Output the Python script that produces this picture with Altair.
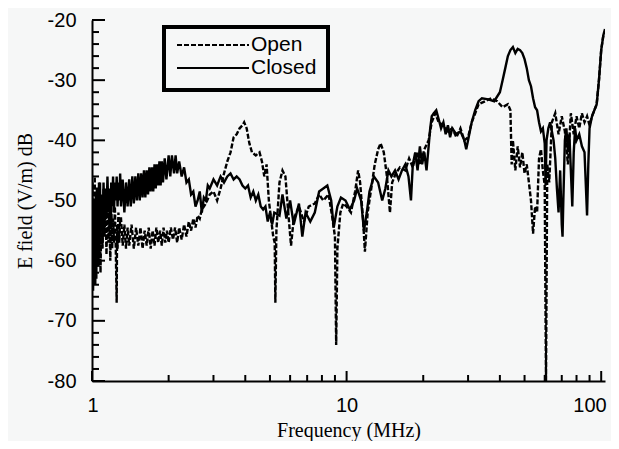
import altair as alt
import pandas as pd

# ---------------- data ----------------
closed_freq = [1.0, 1.005, 1.01, 1.015, 1.02, 1.025, 1.03, 1.035, 1.04, 1.045, 1.05, 1.055, 1.06, 1.065, 1.07,
               1.075, 1.08, 1.09, 1.1, 1.11, 1.12, 1.13, 1.14, 1.15, 1.16, 1.17, 1.18, 1.19, 1.2, 1.21,
               1.22, 1.23, 1.24, 1.25, 1.26, 1.27, 1.28, 1.29,
               1.3, 1.32, 1.34, 1.36, 1.38, 1.4, 1.42, 1.44, 1.46, 1.48, 1.5, 1.52, 1.54, 1.56, 1.58,
               1.6, 1.62, 1.64, 1.66, 1.68, 1.7, 1.72, 1.74, 1.76, 1.78, 1.8, 1.82, 1.84, 1.86, 1.88,
               1.9, 1.93, 1.96, 2.0, 2.03, 2.06, 2.1, 2.13, 2.16, 2.2, 2.25, 2.3, 2.35, 2.4, 2.45,
               2.5, 2.55, 2.6, 2.65, 2.7, 2.75, 2.8, 2.85, 2.9, 3.0, 3.1, 3.2, 3.3, 3.4, 3.5,
               3.6, 3.7, 3.8, 3.9, 4.0, 4.1, 4.2, 4.3, 4.4, 4.5, 4.6, 4.7, 4.8, 4.9, 5.0,
               5.1, 5.2, 5.45, 5.6, 5.8, 6.0, 6.2, 6.5, 6.7, 6.9, 7.2, 7.5, 7.8, 8.1, 8.4,
               8.7, 8.9, 9.2, 9.5, 9.9, 10.3, 10.7, 11.0, 11.4, 11.7, 12.0, 12.3, 12.8, 13.3, 13.8,
               14.2, 14.6, 15.0, 15.5, 16.0, 16.5, 17.0, 17.5, 17.9, 18.2, 18.6, 19.0, 19.4, 19.8, 20.2,
               20.6, 21.0, 21.3, 21.6, 22.0, 22.5, 23.0, 23.5, 24.0, 24.5, 25.0, 25.5, 26.0, 27.0, 28.0,
               29.0, 29.5, 30.0, 31.0, 32.0, 33.0, 34.0, 36.0, 38.0, 40.0, 41.0, 42.0, 43.0, 44.0, 45.0,
               46.0, 47.0, 48.0, 49.0, 50.0, 51.0, 52.0, 53.0, 54.0, 55.0, 56.0, 57.0, 58.0, 59.0, 60.0,
               60.5, 61.0, 62.0, 63.0, 64.0, 65.0, 66.0, 67.0, 68.0, 69.0, 70.0, 70.5, 71.0, 72.0, 73.0,
               74.0, 75.0, 76.0, 77.0, 78.0, 79.0, 80.0, 82.0, 84.0, 86.0, 88.0, 89.0, 90.0, 92.0, 94.0,
               96.0, 98.0, 100.0, 102.0, 103.5]
closed_db = [-62, -55, -65, -50, -60, -53, -64, -49, -58, -52, -61, -48, -56, -50, -59,
             -47, -55, -49, -57, -47, -54, -48, -53, -46, -52, -48, -54, -47, -51, -46,
             -52, -47, -50, -46, -51, -47, -50, -45.5,
             -51, -46.5, -52, -47, -51, -46.5, -51, -46, -50.5, -46, -50, -45.5, -50, -45.5, -49.5,
             -45, -49.5, -45, -49, -44.5, -48.5, -44.5, -48.5, -44, -48, -44, -47.5, -43.5, -47.5, -43.5,
             -47, -43, -46.5, -42.5, -46, -42.5, -45.5, -42.5, -45.5, -43.5, -46, -44.5, -47, -46.5, -49,
             -48.5, -51, -50, -48.5, -52, -49.5, -50, -47.5, -48, -46.5, -47.5, -46, -47, -46, -45.5,
             -46.5, -46, -46.5, -47.5, -48, -47.5, -49.5, -48.5, -50, -49, -51, -51.5, -51, -53.5, -52,
             -54, -52, -52.5, -49, -53, -50, -54, -50.5, -56, -52, -53.5, -52, -48.5, -48, -47.5,
             -50, -54.5, -51, -49.5, -50, -51.5, -50, -48, -50, -55, -52, -48.5, -46, -47, -50,
             -48, -45, -46, -45, -46.5, -45, -44, -46, -50, -44, -42, -45, -41, -44, -42,
             -45, -41, -38, -36, -35.5, -35, -36.5, -38, -37, -39, -37.5, -39.5, -38, -39, -38.5,
             -40, -41.5, -40, -37, -35, -33.5, -33, -33.2, -33.5, -32, -30, -28, -26, -25, -24.5,
             -25.5, -24.8, -25, -25.5, -26.5, -28, -30, -31, -33, -34.5, -35, -37, -38.5, -38, -40.5,
             -47.5, -40, -38, -37, -38.5, -40, -43, -48, -52, -45, -54, -56, -50, -40, -38,
             -42, -39, -45, -51, -42, -38, -40, -39, -41, -42, -52.5, -44, -38, -36, -35,
             -34, -30, -25, -22.5, -21.5]

open_freq = [1.0, 1.005, 1.01, 1.015, 1.02, 1.025, 1.03, 1.035, 1.04, 1.045, 1.05, 1.055, 1.06, 1.065, 1.07,
             1.075, 1.08, 1.09, 1.1, 1.11, 1.12, 1.13, 1.14, 1.15, 1.16, 1.17, 1.18, 1.19, 1.2, 1.21,
             1.22, 1.23, 1.24, 1.25, 1.255, 1.26, 1.27, 1.28, 1.29,
             1.3, 1.32, 1.34, 1.36, 1.38, 1.4, 1.43, 1.46, 1.49, 1.52, 1.55, 1.58, 1.61, 1.64, 1.67,
             1.7, 1.73, 1.76, 1.79, 1.82, 1.85, 1.88, 1.91, 1.94, 1.97, 2.0, 2.04, 2.08, 2.12, 2.16,
             2.2, 2.25, 2.3, 2.35, 2.4, 2.45, 2.5, 2.55, 2.6, 2.65, 2.7, 2.8, 2.9,
             3.0, 3.1, 3.2, 3.3, 3.4, 3.5, 3.6, 3.7, 3.8, 3.9, 3.96, 4.05, 4.15, 4.25, 4.4,
             4.55, 4.65, 4.75, 4.85, 4.95, 5.05, 5.15, 5.22, 5.25, 5.3, 5.45, 5.6, 5.75, 5.9, 6.05,
             6.2, 6.5, 6.8, 7.1, 7.5, 7.8, 8.1, 8.5, 8.8, 9.0, 9.1, 9.2, 9.45, 9.7, 10.0,
             10.4, 10.8, 11.1, 11.3, 11.6, 11.8, 12.1, 12.5, 12.9, 13.3, 13.6, 14.0, 14.4, 14.8, 15.1,
             15.6, 16.2, 17.0, 17.6, 18.2, 18.8, 19.5, 20.2, 21.0, 21.6, 22.3, 23.0, 24.0, 25.0, 26.0,
             27.0, 28.0, 29.0, 30.0, 31.0, 32.0, 33.0, 35.0, 37.0, 39.0, 41.0, 43.0, 44.0, 44.5, 45.0,
             46.0, 47.0, 48.0, 49.0, 50.0, 51.0, 52.0, 53.0, 54.0, 55.0, 56.0, 57.0, 58.0, 59.0, 60.0,
             60.7, 61.4, 62.5, 64.0, 66.0, 68.0, 70.0, 72.0, 74.0, 76.0, 78.0, 80.0, 82.0, 84.0, 86.0,
             88.0, 90.0, 92.0, 94.0, 96.0, 98.0, 100.0, 102.0]
open_db = [-56, -47, -59, -50, -62, -46, -57, -52, -63, -48, -58, -51, -61, -47, -57,
           -53, -62, -50, -58, -48, -56, -51, -59, -49, -57, -52, -60, -50, -58, -53,
           -57, -51, -58, -67, -54, -58, -52, -57, -53,
           -53, -57.5, -54, -58, -54.5, -57.5, -54, -58, -54.5, -57.5, -54.5, -58, -55, -57.5, -54.5,
           -58, -55, -57.5, -54.5, -57, -55, -57.5, -54.5, -57, -55, -57, -54.5, -56.5, -54.5, -57,
           -54.5, -56.5, -54, -56, -53.5, -55, -53, -54.5, -52.5, -53, -51.5, -50.5, -49,
           -48.5, -50, -48, -45.5, -43.5, -42, -39.5, -39, -38, -37.5, -37, -38, -40.5, -42, -42.5,
           -42, -43.5, -46, -44, -50, -53, -56, -57, -67, -55, -47, -45, -46, -52, -57.5,
           -53, -51, -53.5, -51, -50.5, -49, -50, -49, -53, -56, -74, -58, -52, -50.5, -51,
           -52, -48.5, -45, -47, -53, -58.5, -52, -48, -44, -41.5, -40.5, -42, -46, -52, -47,
           -45.5, -44.5, -45, -43, -44.5, -42, -44, -41.5, -40, -37, -35.5, -37, -37.5, -38.5, -38,
           -39.5, -38, -40, -39.5, -37, -35.5, -34, -33.5, -33, -33.5, -34.5, -34, -35, -44, -40,
           -45, -41, -44.5, -42, -45.5, -44, -47, -50, -55.5, -51, -52, -43, -41.5, -45, -47.5,
           -80, -44, -47, -37, -35.5, -39, -36, -38.5, -44, -35.5, -39, -36, -38, -35.5, -37,
           -36, -37.5, -36, -35, -34, -30, -25, -22.5]

y_major = [-80, -70, -60, -50, -40, -30, -20]
y_minor = [-78, -76, -74, -72, -68, -66, -64, -62, -58, -56, -54, -52, -48, -46, -44, -42,
           -38, -36, -34, -32, -28, -26, -24, -22]
x_major = [1, 10, 100]
x_minor = [2, 3, 4, 5, 6, 7, 8, 9, 20, 30, 40, 50, 60, 70, 80, 90]

legend_labels = ["Open", "Closed"]

assert len(closed_freq) == len(closed_db)
assert len(open_freq) == len(open_db)

# ---------------- chart ----------------
W, H = 513, 361
closed_df = pd.DataFrame({"freq": closed_freq, "db": closed_db})
open_df = pd.DataFrame({"freq": open_freq, "db": open_db})

xs = alt.Scale(type="log", domain=[1, 103.5], nice=False)
ys = alt.Scale(domain=[-80, -20], nice=False)

x_axis = alt.Axis(values=x_major, format="d", title="Frequency (MHz)", ticks=False, grid=False,
                  labelFlush=10, labelFlushOffset=5, labelFont="Liberation Sans", labelFontSize=20,
                  labelColor="black", labelPadding=14, titleFont="Liberation Serif", titleFontSize=20,
                  titleFontWeight="normal", titleColor="black", titlePadding=5,
                  domainColor="black", domainWidth=2)
y_axis = alt.Axis(values=y_major, title="E field (V/m) dB", ticks=False, grid=False,
                  labelExpr="'' + datum.value",
                  labelFont="Liberation Sans", labelFontSize=20, labelColor="black", labelPadding=16,
                  titleFont="Liberation Serif", titleFontSize=20, titleFontWeight="normal",
                  titleColor="black", titlePadding=12, domainColor="black", domainWidth=2)

open_line = alt.Chart(open_df).mark_line(color="black", strokeWidth=2.4, strokeDash=[5, 2], clip=True).encode(
    x=alt.X("freq:Q", scale=xs, axis=x_axis),
    y=alt.Y("db:Q", scale=ys, axis=y_axis),
)
closed_line = alt.Chart(closed_df).mark_line(color="black", strokeWidth=2.4, clip=True).encode(
    x=alt.X("freq:Q", scale=xs),
    y=alt.Y("db:Q", scale=ys),
)

ymaj = alt.Chart(pd.DataFrame({"v": y_major})).mark_rule(color="black", strokeWidth=2).encode(
    y=alt.Y("v:Q", scale=ys), x=alt.value(0), x2=alt.value(13))
ymin = alt.Chart(pd.DataFrame({"v": y_minor})).mark_rule(color="black", strokeWidth=2).encode(
    y=alt.Y("v:Q", scale=ys), x=alt.value(0), x2=alt.value(7))
xmaj = alt.Chart(pd.DataFrame({"v": x_major})).mark_rule(color="black", strokeWidth=2).encode(
    x=alt.X("v:Q", scale=xs), y=alt.value(H), y2=alt.value(H - 10))
xmin = alt.Chart(pd.DataFrame({"v": x_minor})).mark_rule(color="black", strokeWidth=2).encode(
    x=alt.X("v:Q", scale=xs), y=alt.value(H), y2=alt.value(H - 6))

one = pd.DataFrame({"a": [0]})
leg_box = alt.Chart(one).mark_rect(fillOpacity=0, stroke="black", strokeWidth=4).encode(
    x=alt.value(72), x2=alt.value(236), y=alt.value(7), y2=alt.value(70))
leg_open = alt.Chart(one).mark_rule(color="black", strokeWidth=2, strokeDash=[5, 2]).encode(
    x=alt.value(85), x2=alt.value(157), y=alt.value(25))
leg_closed = alt.Chart(one).mark_rule(color="black", strokeWidth=2).encode(
    x=alt.value(85), x2=alt.value(157), y=alt.value(48))
leg_text = alt.Chart(pd.DataFrame({"t": legend_labels, "yy": [25, 48]})).mark_text(
    align="left", baseline="middle", font="Liberation Sans", fontSize=21, color="black").encode(
    x=alt.value(159), y=alt.Y("yy:Q", scale=None), text="t:N")

chart = alt.layer(open_line, closed_line, ymaj, ymin, xmaj, xmin,
                  leg_box, leg_open, leg_closed, leg_text).properties(
    width=W, height=H,
    autosize=alt.AutoSizeParams(type="none"),
    padding={"left": 84, "top": 12, "right": 6, "bottom": 60},
    background="#f6f7f7",
).configure_view(stroke=None)

chart.save("out.html", embed_options={"renderer": "svg", "actions": False})
